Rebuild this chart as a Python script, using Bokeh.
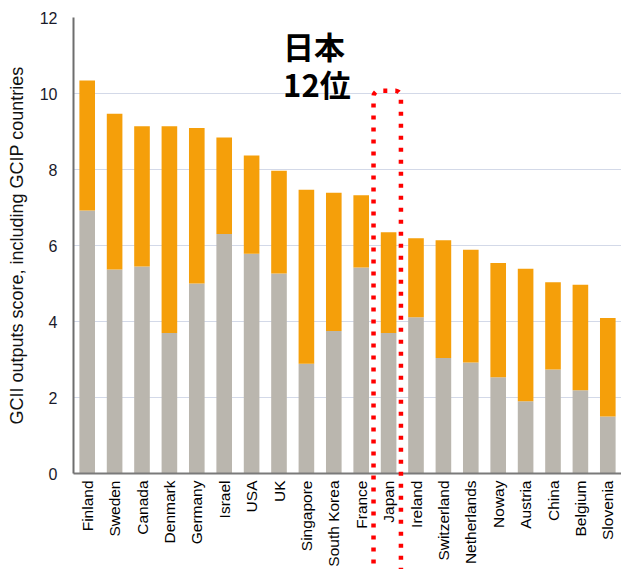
import numpy as np
from bokeh.plotting import figure
from bokeh.models import ColumnDataSource, Label, FixedTicker
from bokeh.embed import file_html
from bokeh.resources import INLINE

countries = ["Finland", "Sweden", "Canada", "Denmark", "Germany", "Israel", "USA", "UK",
             "Singapore", "South Korea", "France", "Japan", "Ireland", "Switzerland",
             "Netherlands", "Noway", "Austria", "China", "Belgium", "Slovenia"]
grey_part = [6.92, 5.37, 5.45, 3.70, 5.00, 6.30, 5.78, 5.26, 2.89, 3.75, 5.42, 3.70,
             4.11, 3.04, 2.92, 2.53, 1.90, 2.74, 2.19, 1.50]
total = [10.34, 9.47, 9.14, 9.14, 9.09, 8.84, 8.37, 7.97, 7.47, 7.39, 7.32, 6.35,
         6.19, 6.14, 5.89, 5.54, 5.39, 5.03, 4.97, 4.09]
orange_part = [round(t - g, 2) for t, g in zip(total, grey_part)]
y_ticks = [0, 2, 4, 6, 8, 10, 12]

ORANGE = "#F59F0A"
GREY = "#BAB6AE"
RED = "#FF0000"

source = ColumnDataSource(dict(country=countries, grey=grey_part, orange=orange_part))

p = figure(x_range=countries, y_range=(0, 12), width=621, height=569,
           output_backend="svg", toolbar_location=None,
           min_border_left=73, min_border_right=0, min_border_top=17, min_border_bottom=96)
p.x_range.range_padding = 0
p.outline_line_color = None
p.background_fill_color = "white"
p.border_fill_color = "white"

p.vbar_stack(["grey", "orange"], x="country", width=0.57, source=source,
             color=[GREY, ORANGE], line_color=None)

# axes
p.yaxis.ticker = FixedTicker(ticks=y_ticks)
p.yaxis.axis_label = "GCII outputs score, including GCIP countries"
p.yaxis.axis_label_text_font = "Liberation Sans"
p.yaxis.axis_label_text_font_style = "normal"
p.yaxis.axis_label_text_font_size = "18px"
p.yaxis.axis_label_text_color = "#111111"
p.yaxis.axis_label_standoff = 10
p.yaxis.major_label_text_font = "Liberation Sans"
p.yaxis.major_label_text_font_size = "16px"
p.yaxis.major_label_text_color = "#1a1a2a"
p.yaxis.major_label_standoff = 16
p.yaxis.major_tick_line_color = None
p.yaxis.major_tick_out = 0
p.yaxis.major_tick_in = 0
p.yaxis.minor_tick_line_color = None
p.yaxis.axis_line_color = "#6e6e6e"
p.yaxis.axis_line_width = 2

p.xaxis.major_label_orientation = 1.5708
p.xaxis.major_label_text_font = "Liberation Sans"
p.xaxis.major_label_text_font_size = "15.5px"
p.xaxis.major_label_text_color = "#000000"
p.xaxis.major_label_standoff = 7
p.xaxis.major_tick_line_color = None
p.xaxis.major_tick_out = 0
p.xaxis.major_tick_in = 0
p.xaxis.axis_line_color = "#7a7a7a"
p.xaxis.axis_line_width = 2

p.xgrid.grid_line_color = None
p.ygrid.grid_line_color = "#D3D9E8"
p.ygrid.grid_line_width = 1.2

# Japan highlight (12th place): dotted frame with rounded top, running past the labels
japan_idx = countries.index("Japan")
left, right, top, bottom = japan_idx - 0.05, japan_idx + 0.95, 10.07, -3.0
rx, ry = 0.2, 0.15
t1 = np.linspace(np.pi, np.pi / 2, 6)
t2 = np.linspace(np.pi / 2, 0, 6)
path_x = ([left] + list(left + rx + rx * np.cos(t1)) +
          list(right - rx + rx * np.cos(t2)) + [right])
path_y = ([bottom] + list(top - ry + ry * np.sin(t1)) +
          list(top - ry + ry * np.sin(t2)) + [bottom])
p.line(path_x, path_y, line_color=RED, line_width=4.5, line_dash="4 8",
       line_join="round", level="overlay")

lbl = Label(x=japan_idx - 3.35, y=11.85, text="日本\n12位", text_font="Noto Sans CJK JP",
            text_font_style="bold", text_font_size="31px", text_color="#000000",
            text_baseline="top", text_align="left", text_line_height=0.85)
p.add_layout(lbl)

open("out.html", "w").write(file_html(p, INLINE))
